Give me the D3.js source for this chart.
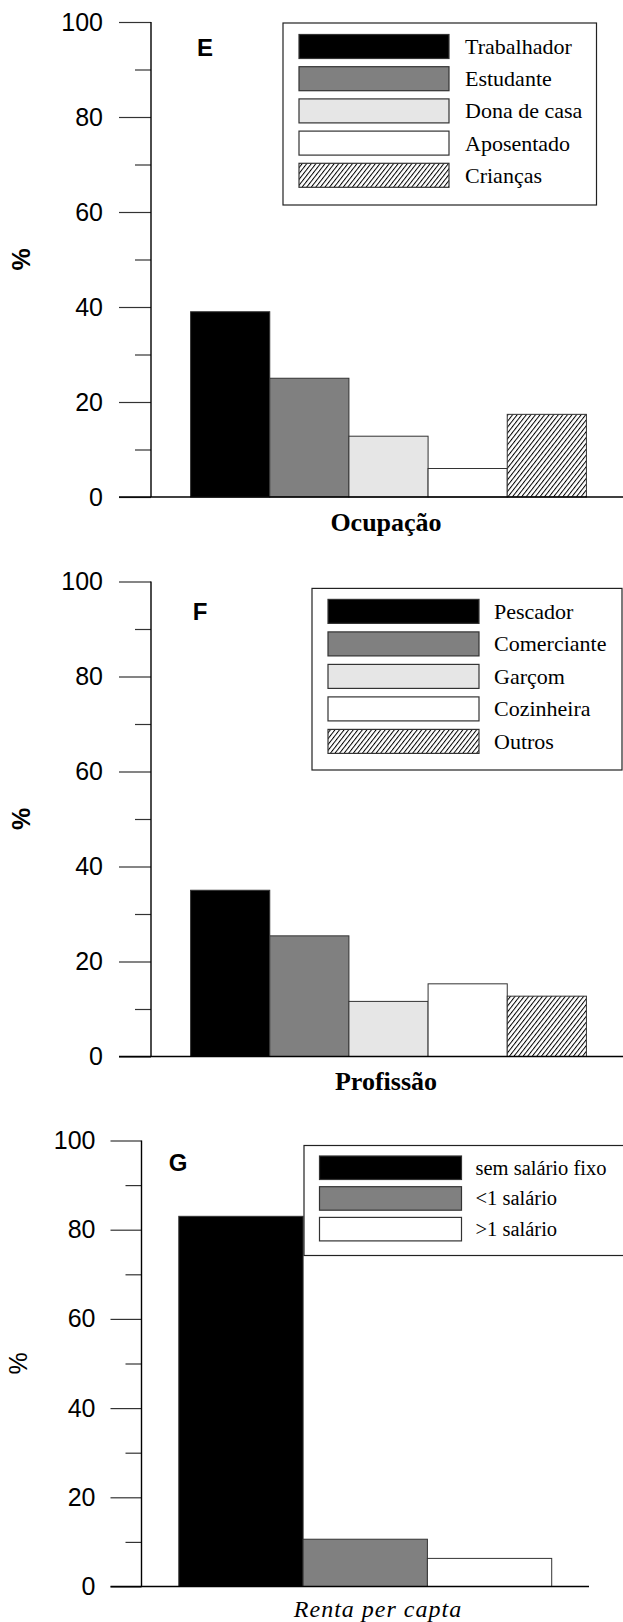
<!DOCTYPE html>
<html>
<head>
<meta charset="utf-8">
<script src="https://cdn.jsdelivr.net/npm/d3@7"></script>
<style>
  html, body { margin: 0; padding: 0; background: #fff; }
  svg { display: block; }
</style>
</head>
<body>
<svg id="chart" width="623" height="1622"></svg>
<script>
// ---------- DATA ----------
const ocupacaoCategories = ["Trabalhador", "Estudante", "Dona de casa", "Aposentado", "Crianças"];
const ocupacaoValues = [39.0, 25.0, 12.8, 6.0, 17.4];

const profissaoCategories = ["Pescador", "Comerciante", "Garçom", "Cozinheira", "Outros"];
const profissaoValues = [35.0, 25.4, 11.6, 15.3, 12.7];

const rendaCategories = ["sem salário fixo", "<1 salário", ">1 salário"];
const rendaValues = [83.0, 10.6, 6.3];

const yTicks = [0, 20, 40, 60, 80, 100];
const yMinorTicks = [10, 30, 50, 70, 90];

const panelLetters = ["E", "F", "G"];
const axisTitles = ["Ocupação", "Profissão", "Renta per capta"];

// ---------- STYLES ----------
const fiveFills = ["#000000", "#808080", "#e6e6e6", "#ffffff", "url(#hatch)"];
const threeFills = ["#000000", "#808080", "#ffffff"];

const svg = d3.select("#chart");
const defs = svg.append("defs");
const pat = defs.append("pattern")
  .attr("id", "hatch")
  .attr("patternUnits", "userSpaceOnUse")
  .attr("width", 3.6).attr("height", 10)
  .attr("patternTransform", "rotate(38)");
pat.append("rect").attr("width", 3.6).attr("height", 10).attr("fill", "#fff");
pat.append("line").attr("x1", 0.5).attr("y1", 0).attr("x2", 0.5).attr("y2", 10)
  .attr("stroke", "#000").attr("stroke-width", 1);

function drawPanel(cfg) {
  const g = svg.append("g");
  const y = d3.scaleLinear().domain([0, 100]).range([cfg.y0, cfg.y100]);
  const x = d3.scaleBand().domain(cfg.categories)
    .range([cfg.axisX, cfg.xEnd]).paddingInner(0).paddingOuter(cfg.outerPad);

  // bars
  g.selectAll("rect.bar").data(cfg.values).enter().append("rect")
    .attr("class", "bar")
    .attr("x", (d, i) => x(cfg.categories[i]))
    .attr("y", d => y(d))
    .attr("width", x.bandwidth())
    .attr("height", d => cfg.y0 - y(d))
    .attr("fill", (d, i) => cfg.fills[i])
    .attr("stroke", "#333")
    .attr("stroke-width", 1);

  // y axis (major)
  const yAxis = d3.axisLeft(y).tickValues(yTicks).tickSize(cfg.majorLen).tickPadding(cfg.labelGap)
    .tickFormat(d3.format("d"));
  const ya = g.append("g").attr("transform", `translate(${cfg.axisX},0)`).call(yAxis);
  ya.select(".domain").remove();
  ya.selectAll(".tick line").attr("stroke", "#333").attr("stroke-width", 1.2);
  ya.selectAll(".tick text").attr("font-family", "Liberation Sans, Arial, sans-serif")
    .attr("font-size", 25).attr("fill", "#000");
  // minor ticks
  const ym = d3.axisLeft(y).tickValues(yMinorTicks).tickSize(cfg.minorLen).tickFormat("");
  const ymg = g.append("g").attr("transform", `translate(${cfg.axisX},0)`).call(ym);
  ymg.select(".domain").remove();
  ymg.selectAll(".tick line").attr("stroke", "#333").attr("stroke-width", 1.2);

  // axis lines
  g.append("line").attr("x1", cfg.axisX).attr("x2", cfg.axisX)
    .attr("y1", y(100)).attr("y2", cfg.y0).attr("stroke", "#000").attr("stroke-width", 1.4);
  g.append("line").attr("x1", cfg.axisX - cfg.majorLen).attr("x2", cfg.xEnd)
    .attr("y1", cfg.y0).attr("y2", cfg.y0).attr("stroke", "#000").attr("stroke-width", 1.4);

  // y title
  g.append("text")
    .attr("transform", `translate(${cfg.pctX},${(cfg.y0 + cfg.y100) / 2}) rotate(-90)`)
    .attr("text-anchor", "middle").attr("dominant-baseline", "central")
    .attr("font-family", "Liberation Sans, Arial, sans-serif")
    .attr("font-size", 25).attr("font-weight", cfg.pctBold ? "bold" : "normal")
    .text("%");

  // panel letter
  g.append("text").attr("x", cfg.letterX).attr("y", cfg.letterY)
    .attr("text-anchor", "middle")
    .attr("font-family", "Liberation Sans, Arial, sans-serif")
    .attr("font-size", 24).attr("font-weight", "bold")
    .text(cfg.letter);

  // x title
  g.append("text").attr("x", cfg.titleX).attr("y", cfg.titleY)
    .attr("text-anchor", "middle")
    .attr("font-family", "Liberation Serif, Times New Roman, serif")
    .attr("font-size", cfg.titleSize)
    .attr("font-weight", cfg.titleItalic ? "normal" : "bold")
    .attr("font-style", cfg.titleItalic ? "italic" : "normal")
    .attr("letter-spacing", cfg.titleSpacing || 0)
    .text(cfg.title);

  // legend
  const L = cfg.legend;
  g.append("rect").attr("x", L.x).attr("y", L.y).attr("width", L.w).attr("height", L.h)
    .attr("fill", "#fff").attr("stroke", "#222").attr("stroke-width", 1.2);
  const items = g.selectAll("g.li").data(cfg.categories).enter().append("g").attr("class", "li");
  items.append("rect")
    .attr("x", L.sx).attr("y", (d, i) => L.sy + i * L.pitch)
    .attr("width", L.sw).attr("height", L.sh)
    .attr("fill", (d, i) => cfg.fills[i])
    .attr("stroke", "#333").attr("stroke-width", 1.2);
  items.append("text")
    .attr("x", L.tx).attr("y", (d, i) => L.sy + i * L.pitch + L.sh / 2 + L.fs * 0.34)
    .attr("font-family", "Liberation Serif, Times New Roman, serif")
    .attr("font-size", L.fs).attr("fill", "#000")
    .text(d => d);
}

drawPanel({
  categories: ocupacaoCategories, values: ocupacaoValues, fills: fiveFills,
  y0: 497, y100: 22, axisX: 151, xEnd: 626, outerPad: 0.5,
  majorLen: 32, minorLen: 16, labelGap: 16,
  pctX: 21, pctBold: true,
  letter: panelLetters[0], letterX: 205, letterY: 56,
  title: axisTitles[0], titleX: 386, titleY: 531, titleSize: 26, titleItalic: false,
  legend: { x: 283, y: 23, w: 313.5, h: 182, sx: 299, sy: 34.5, sw: 150, sh: 24, pitch: 32.2, tx: 465, fs: 22 }
});

drawPanel({
  categories: profissaoCategories, values: profissaoValues, fills: fiveFills,
  y0: 1056.5, y100: 581.5, axisX: 151, xEnd: 626, outerPad: 0.5,
  majorLen: 32, minorLen: 16, labelGap: 16,
  pctX: 21, pctBold: true,
  letter: panelLetters[1], letterX: 200, letterY: 620,
  title: axisTitles[1], titleX: 386, titleY: 1090, titleSize: 26, titleItalic: false,
  legend: { x: 312, y: 588.4, w: 310, h: 181.6, sx: 328, sy: 599.4, sw: 151, sh: 24, pitch: 32.5, tx: 494, fs: 22 }
});

drawPanel({
  categories: rendaCategories, values: rendaValues, fills: threeFills,
  y0: 1586.5, y100: 1140.5, axisX: 141.5, xEnd: 589, outerPad: 0.3,
  majorLen: 31, minorLen: 16, labelGap: 15,
  pctX: 18, pctBold: false,
  letter: panelLetters[2], letterX: 178, letterY: 1171,
  title: axisTitles[2], titleX: 378, titleY: 1617, titleSize: 24, titleItalic: true, titleSpacing: 1,
  legend: { x: 304, y: 1145.5, w: 320, h: 110, sx: 319.5, sy: 1156, sw: 142, sh: 23.5, pitch: 30.7, tx: 475.5, fs: 20.5 }
});
</script>
</body>
</html>
